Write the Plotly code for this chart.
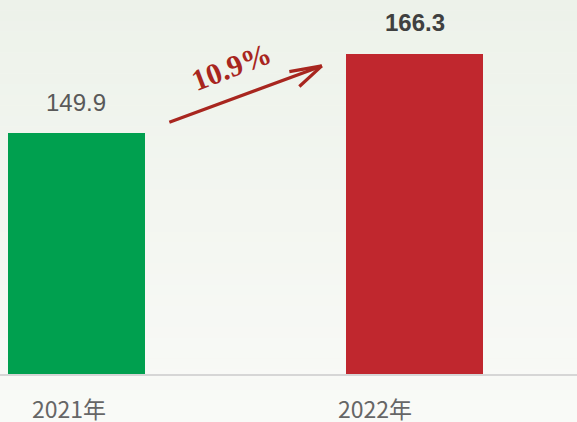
import plotly.graph_objects as go

categories = ["2021年", "2022年"]
values = [149.9, 166.3]
bar_colors = ["#00a04f", "#c0272e"]
growth_label = "10.9%"

fig = go.Figure()
fig.add_trace(go.Bar(x=categories, y=values, marker=dict(color=bar_colors, line=dict(width=0)),
                     width=0.405, hoverinfo="skip"))

# background gradient bands
n = 40
top = (237, 242, 234)
bot = (249, 250, 247)
for i in range(n):
    t = i / (n - 1)
    c = tuple(round(top[k] + (bot[k] - top[k]) * t) for k in range(3))
    y1 = 1 - i / n * (422 / 375)
    y0 = 1 - (i + 1) / n * (422 / 375)
    fig.add_shape(type="rect", xref="paper", yref="paper", x0=0, x1=1, y0=y0, y1=y1 + 0.001,
                  fillcolor="rgb(%d,%d,%d)" % c, line=dict(width=0), layer="below")

annots = []
# value labels
for i, (c, v) in enumerate(zip(categories, values)):
    txt = f"{v:.1f}" if i == 0 else f"<b>{v:.1f}</b>"
    annots.append(dict(x=c, y=v, xref="x", yref="y", text=txt, showarrow=False,
                       yanchor="middle", yshift=31,
                       font=dict(family="Liberation Sans, Arial", size=24,
                                 color="#595959" if i == 0 else "#404040")))
# category labels
for c, xs in zip(categories, [-7.5, -40]):
    annots.append(dict(x=c, y=0, xref="x", yref="paper", text=c, showarrow=False,
                       yanchor="middle", yshift=-33, xshift=xs,
                       font=dict(family="Noto Sans CJK SC", size=23, color="#666666")))

arrow_color = "#a8261f"
tip = dict(x=0.725, y=163.8)
# shaft
annots.append(dict(x=tip["x"], y=tip["y"], xref="x", yref="y", ax=-154, ay=57, text="",
                   showarrow=True, arrowhead=0, arrowwidth=3.2, arrowcolor=arrow_color))
# chevron arms
annots.append(dict(x=tip["x"], y=tip["y"], xref="x", yref="y", ax=-34, ay=6, text="",
                   showarrow=True, arrowhead=0, arrowwidth=3.2, arrowcolor=arrow_color))
annots.append(dict(x=tip["x"], y=tip["y"], xref="x", yref="y", ax=-24, ay=22, text="",
                   showarrow=True, arrowhead=0, arrowwidth=3.2, arrowcolor=arrow_color))
# growth text
annots.append(dict(x=0.459, y=163.6, xref="x", yref="y", text=f"<b>{growth_label}</b>",
                   showarrow=False, textangle=-21,
                   font=dict(family="Liberation Serif, Times New Roman", size=30, color=arrow_color)))

fig.update_layout(
    width=577, height=422,
    margin=dict(l=0, r=0, t=0, b=47),
    paper_bgcolor="#f4f6f1", plot_bgcolor="rgba(0,0,0,0)",
    showlegend=False, bargap=0,
    annotations=annots,
    xaxis=dict(type="category", range=[-0.226, 1.479], showticklabels=False, showgrid=False,
               zeroline=False, showline=False, ticks=""),
    yaxis=dict(range=[100, 177.4], visible=False, showgrid=False, zeroline=False),
)
fig.add_shape(type="line", xref="paper", yref="paper", x0=0, x1=1, y0=0, y1=0,
              line=dict(color="#d6d6d6", width=2), layer="above")

fig.write_html("out.html", config={"displayModeBar": False},
               post_script="document.body.style.margin='0';document.body.style.overflow='hidden';")
